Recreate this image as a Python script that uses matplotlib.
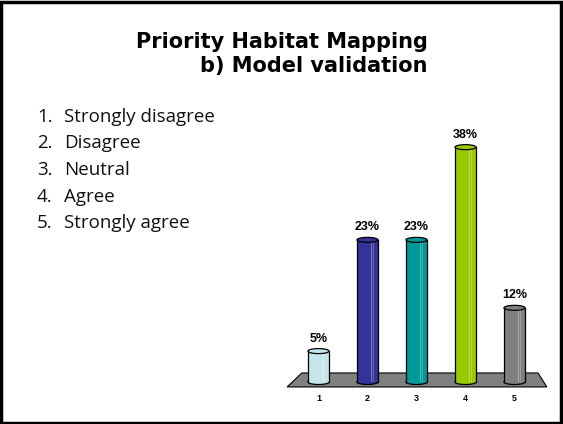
import numpy as np
import matplotlib
matplotlib.use("Agg")
from matplotlib import pyplot as plt
from matplotlib.patches import Ellipse, Polygon, Rectangle

# Data

categories = ["1", "2", "3", "4", "5"]
values = [5, 23, 23, 38, 12]
colours = ["#c4e6ea", "#333399", "#009999", "#99cc00", "#808080"]
legend_items = ["Strongly disagree", "Disagree", "Neutral", "Agree", "Strongly agree"]
title_lines = ["Priority Habitat Mapping", "b) Model validation"]

W, H = 563, 424
fig = plt.figure(figsize=(W / 100, H / 100), dpi=100)

# black slide frame
fig.patches.append(Rectangle((0.002, 0.003), 0.995, 0.993, transform=fig.transFigure,
                             fill=False, edgecolor="black", linewidth=2.5))

# title
fig.text(282 / W, 1 - 48 / H, title_lines[0], ha="center", va="baseline",
         fontsize=15, fontweight="bold", family="DejaVu Sans")
fig.text(427 / W, 1 - 72 / H, title_lines[1], ha="right", va="baseline",
         fontsize=15, fontweight="bold", family="DejaVu Sans")

# numbered list on the left
for i, item in enumerate(legend_items):
    yb = 1 - (122 + 26.5 * i) / H
    fig.text(37 / W, yb, f"{i + 1}.", ha="left", va="baseline", fontsize=13.5,
             family="Open Sans", color="#111111")
    fig.text(64 / W, yb, item, ha="left", va="baseline", fontsize=13.5,
             family="Open Sans", color="#111111")

# chart axes: pixel mapping -> bar centres 318.5 + 49*i, zero line at 382px from top
ax = fig.add_axes([270 / W, 0, 290 / W, 324 / H])
px_x = 49.0
px_y = 6.18
ax.set_xlim((270 - 318.5) / px_x, (560 - 318.5) / px_x)
ax.set_ylim(-(H - 382) / px_y, (324 - (H - 382)) / px_y)
ax.axis("off")

x = np.arange(len(categories))
bw = 0.43
cap_h = 5 / px_y

# floor
floor = Polygon([(x[0] - 0.34, 1.46), (x[-1] + 0.48, 1.46),
                 (x[-1] + 0.66, -0.8), (x[0] - 0.64, -0.8)],
                closed=True, facecolor="#808080", edgecolor="black", linewidth=0.8, zorder=1)
ax.add_patch(floor)

for xi, v, c in zip(x, values, colours):
    # bottom cap (rounded base)
    ax.add_patch(Ellipse((xi, 0), bw, cap_h, facecolor=c, edgecolor="black",
                         linewidth=0.9, zorder=2))
    ax.bar(xi, v, width=bw, color=c, edgecolor="none", zorder=3)
    # light stripes for the cylinder look
    ax.bar(xi + 0.08, v, width=0.03, color="white", alpha=0.35, edgecolor="none", zorder=4)
    ax.bar(xi + 0.13, v, width=0.02, color="white", alpha=0.25, edgecolor="none", zorder=4)
    ax.plot([xi - bw / 2, xi - bw / 2], [0, v], color="black", linewidth=0.9, zorder=5)
    ax.plot([xi + bw / 2, xi + bw / 2], [0, v], color="black", linewidth=0.9, zorder=5)
    # top cap
    ax.add_patch(Ellipse((xi, v), bw, cap_h, facecolor=c, edgecolor="black",
                         linewidth=0.9, zorder=6))
    ax.text(xi, v + 2.0, f"{v}%", ha="center", va="center", fontsize=9,
            fontweight="bold", family="Liberation Sans")

for xi, lab in zip(x, categories):
    ax.text(xi, -2.75, lab, ha="center", va="center", fontsize=6.5,
            fontweight="bold", family="Liberation Sans")

fig.savefig("out.png", dpi=100)
